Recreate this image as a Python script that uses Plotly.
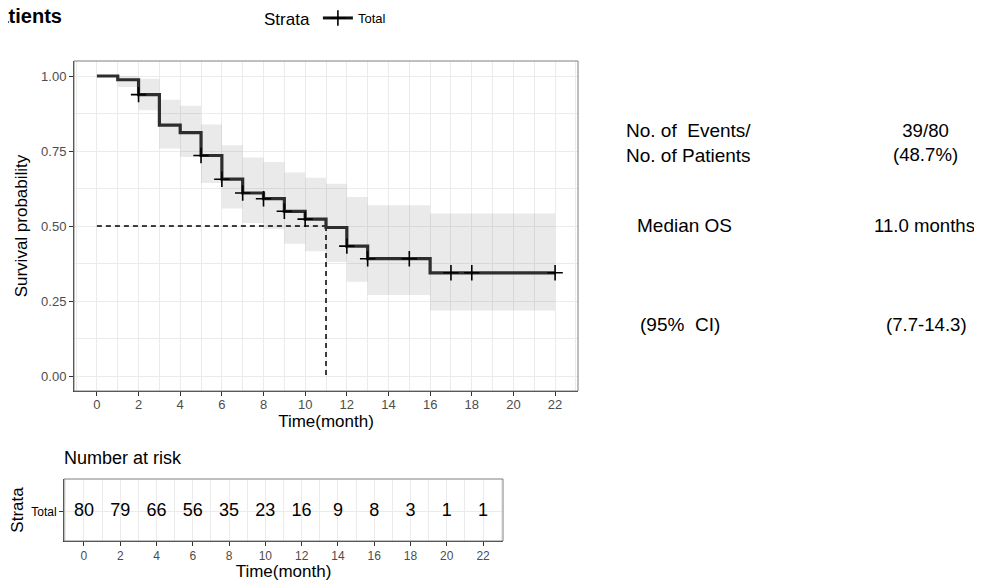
import numpy as np
import plotly.graph_objects as go

# ---------------- data ----------------
step_times = [0, 1, 2, 3, 4, 5, 6, 7, 8, 9, 10, 11, 12, 13, 16, 22]
surv = [1.0, 0.9875, 0.938, 0.836, 0.811, 0.735, 0.656, 0.610, 0.591, 0.549, 0.523, 0.495, 0.433, 0.391, 0.344, 0.344]
ci_upper = [1.0, 1.0, 0.991, 0.921, 0.901, 0.838, 0.769, 0.728, 0.713, 0.678, 0.661, 0.641, 0.597, 0.569, 0.542, 0.542]
ci_lower = [1.0, 0.963, 0.886, 0.758, 0.730, 0.643, 0.558, 0.510, 0.489, 0.441, 0.416, 0.380, 0.314, 0.270, 0.218, 0.218]
censor_times = [2, 5, 6, 7, 8, 9, 10, 12, 13, 15, 17, 18, 22]

median_time = 11.0
median_surv = 0.5

risk_times = [0, 2, 4, 6, 8, 10, 12, 14, 16, 18, 20, 22]
n_risk = [80, 79, 66, 56, 35, 23, 16, 9, 8, 3, 1, 1]

x_ticks = list(range(0, 23, 2))
y_ticks = [0, 0.25, 0.5, 0.75, 1.0]
y_ticktext = ["0.00", "0.25", "0.50", "0.75", "1.00"]

stats_left = ["No. of&nbsp;&nbsp;Events/<br>No. of Patients", "Median OS", "(95%&nbsp;&nbsp;CI)"]
stats_right = ["39/80<br>(48.7%)", "11.0 months", "(7.7-14.3)"]

# ---------------- layout helpers ----------------
# page body has an 8px margin, so the figure is shifted by 8px in the window
OFF = 8
W, H = 982 - OFF, 581 - OFF
def px(x):
    return (x - OFF) / W
def py(y):
    return 1 - (y - OFF) / H

FONT = "Liberation Sans, Arial, Helvetica, sans-serif"
GRID = "#EBEBEB"
TICKC = "#4D4D4D"

# survival value at censor times (step function lookup)
idx = np.searchsorted(np.array(step_times), np.array(censor_times), side="right") - 1
censor_surv = [surv[i] for i in idx]

fig = go.Figure()

# CI band
fig.add_trace(go.Scatter(x=step_times, y=ci_lower, mode="lines", line=dict(shape="hv", width=0, color="rgba(0,0,0,0)"),
                         showlegend=False, hoverinfo="skip", xaxis="x", yaxis="y"))
fig.add_trace(go.Scatter(x=step_times, y=ci_upper, mode="lines", line=dict(shape="hv", width=0, color="rgba(0,0,0,0)"),
                         fill="tonexty", fillcolor="rgba(51,51,51,0.10)", showlegend=False, hoverinfo="skip",
                         xaxis="x", yaxis="y"))

# median lines
fig.add_trace(go.Scatter(x=[0, median_time], y=[median_surv, median_surv], mode="lines",
                         line=dict(color="black", width=1.5, dash="5px,4px"), showlegend=False, xaxis="x", yaxis="y"))
fig.add_trace(go.Scatter(x=[median_time, median_time], y=[median_surv, 0], mode="lines",
                         line=dict(color="black", width=1.5, dash="5px,4px"), showlegend=False, xaxis="x", yaxis="y"))

# KM curve
fig.add_trace(go.Scatter(x=step_times, y=surv, mode="lines", line=dict(shape="hv", width=3.2, color="#2E2E2E"),
                         showlegend=False, xaxis="x", yaxis="y"))
# censor marks
fig.add_trace(go.Scatter(x=censor_times, y=censor_surv, mode="markers",
                         marker=dict(symbol="cross-thin", size=11, line=dict(color="black", width=1.6)),
                         showlegend=False, xaxis="x", yaxis="y"))
# legend entry
fig.add_trace(go.Scatter(x=[None], y=[None], mode="lines+markers", name="Total",
                         line=dict(width=3, color="#111111"),
                         marker=dict(symbol="cross-thin", size=11, line=dict(color="black", width=1.6)),
                         xaxis="x", yaxis="y"))

# risk table
fig.add_trace(go.Scatter(x=risk_times, y=[1] * len(risk_times), mode="text", text=[str(v) for v in n_risk],
                         textfont=dict(size=18, color="black", family=FONT), showlegend=False,
                         xaxis="x2", yaxis="y2"))

axis_common = dict(ticks="outside", ticklen=4, tickcolor="#333333", tickwidth=1,
                   showline=True, linecolor="#333333", linewidth=1, mirror=False,
                   showgrid=True, gridcolor=GRID, gridwidth=1, zeroline=False, automargin=False)

fig.update_layout(
    width=W, height=H, margin=dict(l=0, r=0, t=0, b=0, autoexpand=False),
    paper_bgcolor="white", plot_bgcolor="white",
    font=dict(family=FONT, color="black"),
    showlegend=True,
    legend=dict(orientation="h", x=px(262), y=py(3), xanchor="left", yanchor="top",
                title=dict(text="Strata", font=dict(size=17, color="black"), side="left"),
                font=dict(size=13, color="black"), itemwidth=30, bgcolor="rgba(0,0,0,0)"),
    xaxis=dict(domain=[px(74), px(578)], range=[-1.1, 23.1], tickvals=x_ticks,
               tickfont=dict(size=13, color=TICKC), ticklabelstandoff=-3,
               title=dict(text="Time(month)", font=dict(size=17, color="black"), standoff=0),
               minor=dict(dtick=1, tick0=0, showgrid=True, gridcolor=GRID, gridwidth=0.6, ticks=""),
               anchor="y", **axis_common),
    yaxis=dict(domain=[py(391), py(61)], range=[-0.05, 1.05], tickvals=y_ticks, ticktext=y_ticktext,
               tickfont=dict(size=13, color=TICKC),
               title=dict(text="Survival probability", font=dict(size=17, color="black"), standoff=9),
               minor=dict(dtick=0.125, tick0=0, showgrid=True, gridcolor=GRID, gridwidth=0.6, ticks=""),
               anchor="x", **axis_common),
    xaxis2=dict(domain=[px(64), px(503)], range=[-1.1, 23.1], tickvals=x_ticks,
                tickfont=dict(size=12, color=TICKC),
                title=dict(text="Time(month)", font=dict(size=17, color="black"), standoff=4),
                minor=dict(dtick=1, tick0=0, showgrid=True, gridcolor=GRID, gridwidth=0.6, ticks=""),
                anchor="y2", **axis_common),
    yaxis2=dict(domain=[py(541), py(479)], range=[0.05, 2.05], tickvals=[1], ticktext=["Total"],
                tickfont=dict(size=12, color="black"),
                title=dict(text="Strata", font=dict(size=17, color="black"), standoff=6),
                anchor="x2", **axis_common),
)

# panel borders
for xr, yr in [("x domain", "y domain"), ("x2 domain", "y2 domain")]:
    fig.add_shape(type="rect", xref=xr, yref=yr, x0=0, x1=1, y0=0, y1=1,
                  line=dict(color="#7F7F7F", width=1), fillcolor="rgba(0,0,0,0)", layer="above")

# title (cut off at left edge like the original)
fig.add_annotation(text="<b>All Patients</b>", xref="paper", yref="paper", x=px(64), y=py(16),
                   xanchor="right", yanchor="middle", showarrow=False, font=dict(size=20, color="black"))
# risk table title
fig.add_annotation(text="Number at risk", xref="paper", yref="paper", x=px(62), y=py(458),
                   xanchor="left", yanchor="middle", showarrow=False, font=dict(size=18, color="black"))

# right-side statistics
left_pos = [(624, 143), (635, 226), (638, 324)]
right_pos = [(925, 143), (924, 226), (926, 324)]
for t, (x, y) in zip(stats_left, left_pos):
    fig.add_annotation(text=t, xref="paper", yref="paper", x=px(x), y=py(y), xanchor="left", yanchor="middle",
                       align="left", showarrow=False, font=dict(size=19, color="black"))
for t, (x, y) in zip(stats_right, right_pos):
    fig.add_annotation(text=t, xref="paper", yref="paper", x=px(x), y=py(y), xanchor="center", yanchor="middle",
                       align="center", showarrow=False, font=dict(size=18.6, color="black"))

fig.write_html("out.html")
